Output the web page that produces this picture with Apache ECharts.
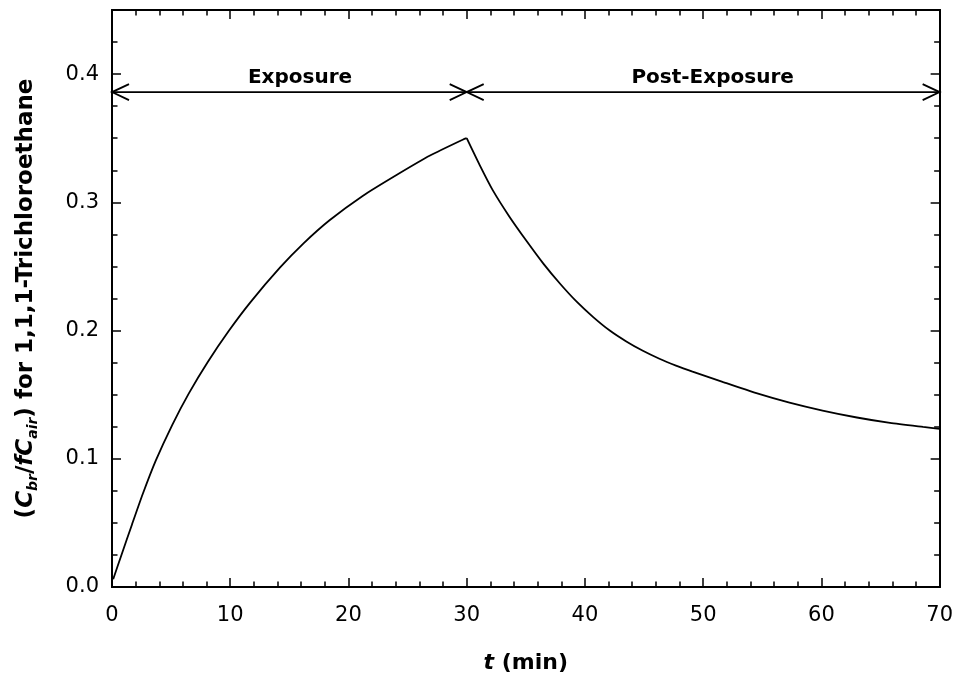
<!DOCTYPE html>
<html>
<head>
<meta charset="utf-8">
<script src="https://cdn.jsdelivr.net/npm/echarts@6/dist/echarts.min.js"></script>
<style>
  html, body { margin: 0; padding: 0; background: #fff; }
  #chart { width: 956px; height: 679px; }
</style>
</head>
<body>
<div id="chart"></div>
<script>
// ---- data ----
const tExposure = [0.1, 0.8, 1.7, 2.6, 3.7, 5.1, 6.5, 8.1, 9.9, 11.7, 14.2, 16.2, 18.4, 21.2, 24.1, 26.9, 29.7, 30.0];
const rExposure = [0.006, 0.025, 0.049, 0.0725, 0.0985, 0.1265, 0.151, 0.1755, 0.200, 0.222, 0.249, 0.268, 0.286, 0.305, 0.3215, 0.3365, 0.349, 0.350];

const tPost = [30.0, 31.1, 32.2, 33.6, 35.05, 36.5, 37.9, 39.3, 40.7, 42.1, 43.5, 44.9, 46.3, 47.7, 49.1, 51.7, 54.5, 57.3, 60.1, 63.0, 65.8, 68.6, 70.0];
const rPost = [0.350, 0.329, 0.3095, 0.289, 0.270, 0.252, 0.2365, 0.2225, 0.2105, 0.200, 0.1915, 0.1842, 0.178, 0.1727, 0.168, 0.1598, 0.1512, 0.1438, 0.1376, 0.1322, 0.128, 0.1248, 0.1233];

const phaseLabels = ['Exposure', 'Post-Exposure'];
const phaseStart = [0, 30];
const phaseEnd = [30, 70];
const phaseLabelX = [15.9, 50.8];
const phaseArrowLevel = 0.386;

const xTickValues = [0, 10, 20, 30, 40, 50, 60, 70];
const yTickLabels = ['0.0', '0.1', '0.2', '0.3', '0.4'];

// ---- chart ----
const FONT = 'DejaVu Sans';
const BLACK = '#000';
const chart = echarts.init(document.getElementById('chart'), null, { renderer: 'canvas' });

const tickStyle = { color: BLACK, width: 1.5 };
function xAx(pos, withLabels) {
  return {
    type: 'value', position: pos, min: xTickValues[0], max: xTickValues[xTickValues.length - 1], interval: 10,
    axisLine: { show: true, onZero: false, lineStyle: { color: BLACK, width: 2 } },
    axisTick: { show: true, inside: true, length: 9, lineStyle: tickStyle },
    minorTick: { show: true, splitNumber: 5, length: 5.5, lineStyle: tickStyle },
    splitLine: { show: false }, minorSplitLine: { show: false },
    axisLabel: withLabels ? { show: true, margin: 18, color: BLACK, fontFamily: FONT, fontSize: 21 } : { show: false },
    name: withLabels ? '{i|t} (min)' : '',
    nameLocation: 'middle', nameGap: 65,
    nameTextStyle: {
      color: BLACK, fontFamily: FONT, fontSize: 22, fontWeight: 'bold',
      rich: { i: { fontFamily: FONT, fontSize: 22, fontWeight: 'bold', fontStyle: 'italic', color: BLACK } }
    }
  };
}
function yAx(pos, interval, tickLen, withLabels) {
  return {
    type: 'value', position: pos, min: 0, max: 0.45, interval: interval,
    axisLine: { show: true, onZero: false, lineStyle: { color: BLACK, width: 2 } },
    axisTick: { show: true, inside: true, length: tickLen, lineStyle: tickStyle },
    splitLine: { show: false },
    axisLabel: withLabels ? {
      show: true, margin: 13, color: BLACK, fontFamily: FONT, fontSize: 21,
      formatter: function (v) {
        const k = Math.round(v * 10);
        return (Math.abs(v * 10 - k) < 1e-6 && k < yTickLabels.length) ? yTickLabels[k] : '';
      }
    } : { show: false },
    name: withLabels ? '{p|(}{i|C}{s|br}{p|/}{i|fC}{s|air}{p|) for 1,1,1-Trichloroethane}' : '',
    nameLocation: 'middle', nameGap: 72,
    nameTextStyle: {
      color: BLACK, fontFamily: FONT, fontSize: 23, fontWeight: 'bold',
      rich: {
        p: { fontFamily: FONT, fontSize: 23, fontWeight: 'bold', color: BLACK, lineHeight: 28 },
        i: { fontFamily: FONT, fontSize: 23, fontWeight: 'bold', fontStyle: 'italic', color: BLACK, lineHeight: 28 },
        s: { fontFamily: FONT, fontSize: 14, fontWeight: 'bold', fontStyle: 'italic', color: BLACK,
             verticalAlign: 'bottom', lineHeight: 14, padding: [6, 0, 0, 0] }
      }
    }
  };
}

const option = {
  animation: false,
  backgroundColor: '#fff',
  grid: { left: 112, right: 16, top: 10, bottom: 85, containLabel: false },
  xAxis: [xAx('bottom', true), xAx('top', false)],
  yAxis: [
    yAx('left', 0.1, 9, true),
    yAx('left', 0.025, 5.5, false),
    yAx('right', 0.1, 9, false),
    yAx('right', 0.025, 5.5, false)
  ],
  series: [
    {
      name: 'Exposure', type: 'line', xAxisIndex: 0, yAxisIndex: 0,
      data: tExposure.map((t, i) => [t, rExposure[i]]),
      symbol: 'none', smooth: 0.2,
      lineStyle: { color: BLACK, width: 1.8 }
    },
    {
      name: 'Post-Exposure', type: 'line', xAxisIndex: 0, yAxisIndex: 0,
      data: tPost.map((t, i) => [t, rPost[i]]),
      symbol: 'none', smooth: 0.2,
      lineStyle: { color: BLACK, width: 1.8 }
    },
    {
      type: 'custom', xAxisIndex: 0, yAxisIndex: 0, clip: false, silent: true,
      data: phaseStart.map((s, i) => [s, phaseEnd[i], phaseArrowLevel, phaseLabelX[i]]),
      encode: { x: [0, 1, 3], y: 2 },
      renderItem: function (params, api) {
        const p0 = api.coord([api.value(0), api.value(2)]);
        const p1 = api.coord([api.value(1), api.value(2)]);
        const pl = api.coord([api.value(3), api.value(2)]);
        const L = 17, H = 8;
        const ls = { stroke: BLACK, lineWidth: 1.8, fill: null };
        return {
          type: 'group',
          children: [
            { type: 'line', shape: { x1: p0[0], y1: p0[1], x2: p1[0], y2: p1[1] }, style: ls },
            { type: 'polyline', shape: { points: [[p0[0] + L, p0[1] - H], [p0[0], p0[1]], [p0[0] + L, p0[1] + H]] }, style: ls },
            { type: 'polyline', shape: { points: [[p1[0] - L, p1[1] - H], [p1[0], p1[1]], [p1[0] - L, p1[1] + H]] }, style: ls },
            {
              type: 'text',
              style: {
                text: phaseLabels[params.dataIndex], x: pl[0], y: pl[1] - 4,
                fill: BLACK, font: 'bold 20px "DejaVu Sans"',
                textAlign: 'center', textVerticalAlign: 'bottom', align: 'center', verticalAlign: 'bottom'
              }
            }
          ]
        };
      }
    }
  ]
};
chart.setOption(option);
</script>
</body>
</html>
